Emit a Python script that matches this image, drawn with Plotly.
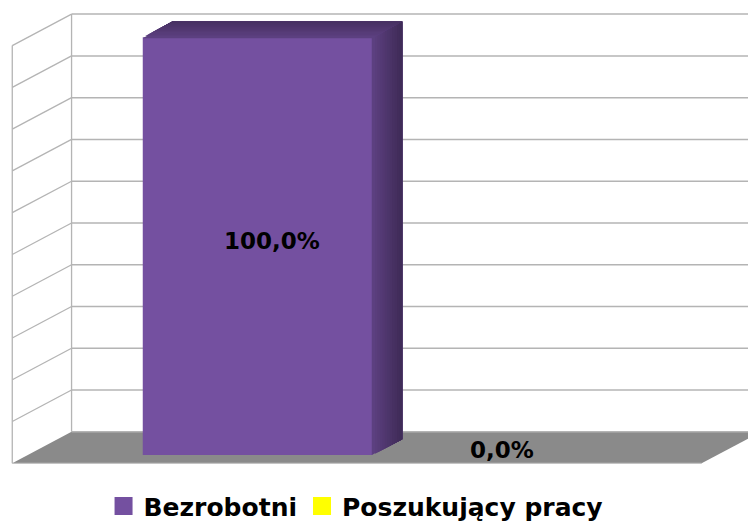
import plotly.graph_objects as go

# ---- data ----
series_names = ["Bezrobotni", "Poszukujący pracy"]
values = [100.0, 0.0]
series_colors = ["#7450A0", "#FFFF00"]
grid_ticks = [0, 10, 20, 30, 40, 50, 60, 70, 80, 90, 100]

# ---- 3D projection parameters (axis units) ----
DX = 0.0860        # x shift per unit of depth
DY = 7.54          # y shift per unit of depth
FD = 0.263         # depth of bar front face
BD = 0.5           # bar depth
BAR_W = 1 / 3      # bar width (category band = 1)
X_LEFT, X_RIGHT = -0.5, 0.5
EPS = 0.0012       # tiny overlap to hide anti-alias seams


def hex_to_rgb(h):
    h = h.lstrip("#")
    return tuple(int(h[i:i + 2], 16) for i in (0, 2, 4))


def shade(h, f):
    r, g, b = hex_to_rgb(h)
    return "rgb(%d,%d,%d)" % (r * f, g * f, b * f)


def mix(h, f1, f2, t):
    return shade(h, f1 + (f2 - f1) * t)


def poly(pts):
    return "M " + " L ".join("%f,%f" % p for p in pts) + " Z"


shapes = []
grid_col = "#B4B4B4"

# floor
shapes.append(dict(type="path", xref="x", yref="y", layer="below",
                   path=poly([(X_LEFT, 0), (X_RIGHT, 0), (X_RIGHT + DX, DY), (X_LEFT + DX, DY)]),
                   fillcolor="#8A8A8A", line=dict(width=0)))
shapes.append(dict(type="line", xref="x", yref="y", layer="below",
                   x0=X_LEFT, y0=0, x1=X_RIGHT, y1=0, line=dict(color="#C4C4C4", width=1.2)))

# back wall grid lines
for t in grid_ticks:
    shapes.append(dict(type="line", xref="x", yref="y", layer="below",
                       x0=X_LEFT + DX, y0=t + DY, x1=X_RIGHT + 2 * DX, y1=t + DY,
                       line=dict(color=grid_col, width=1.5)))
# left wall lines
for t in grid_ticks[1:]:
    shapes.append(dict(type="line", xref="x", yref="y", layer="below",
                       x0=X_LEFT, y0=t, x1=X_LEFT + DX, y1=t + DY,
                       line=dict(color=grid_col, width=1.3)))
shapes.append(dict(type="line", xref="x", yref="y", layer="below",
                   x0=X_LEFT, y0=0, x1=X_LEFT, y1=grid_ticks[-1],
                   line=dict(color=grid_col, width=1.3)))
shapes.append(dict(type="line", xref="x", yref="y", layer="below",
                   x0=X_LEFT + DX, y0=DY, x1=X_LEFT + DX, y1=grid_ticks[-1] + DY,
                   line=dict(color=grid_col, width=1.3)))

fig = go.Figure()
annotations = []
N = 12
for i, (name, v, c) in enumerate(zip(series_names, values, series_colors)):
    x0 = -BAR_W + i * BAR_W          # left edge at depth 0
    x1 = x0 + BAR_W
    fig.add_trace(go.Bar(x=[FD * DX], y=[v], base=FD * DY, width=BAR_W,
                         offset=x0, marker=dict(color=c, line=dict(width=0)),
                         showlegend=False, hoverinfo="skip"))
    if v > 0:
        dend = FD + BD
        # side face: overlapping gradient layers along depth (no seams)
        for k in range(N):
            d0 = FD + BD * k / N
            col = mix(c, 0.80, 0.55, k / (N - 1))
            sx = x1 + d0 * DX - (EPS if k == 0 else 0)
            shapes.append(dict(type="path", xref="x", yref="y", layer="above",
                               path=poly([(sx, d0 * DY),
                                          (x1 + dend * DX, dend * DY),
                                          (x1 + dend * DX, v + dend * DY),
                                          (sx, v + d0 * DY)]),
                               fillcolor=col, line=dict(width=0)))
        # top face
        for k in range(N):
            d0 = FD + BD * k / N
            col = mix(c, 0.80, 0.62, k / (N - 1))
            sy = v + d0 * DY - (0.25 if k == 0 else 0)
            shapes.append(dict(type="path", xref="x", yref="y", layer="above",
                               path=poly([(x0 + d0 * DX, sy), (x1 + d0 * DX, sy),
                                          (x1 + dend * DX, v + dend * DY), (x0 + dend * DX, v + dend * DY)]),
                               fillcolor=col, line=dict(width=0)))
    md = FD + BD / 2
    annotations.append(dict(x=(x0 + x1) / 2 + md * DX, y=v / 2 + md * DY, xref="x", yref="y",
                            text=("%.1f%%" % v).replace(".", ","), showarrow=False, yshift=-3,
                            font=dict(family="DejaVu Sans", size=23, color="black", weight="bold")))
    # legend entry
    fig.add_trace(go.Scatter(x=[None], y=[None], mode="markers", name=name,
                             marker=dict(symbol="square", size=16, color=c, line=dict(color=c, width=2))))

fig.update_layout(
    width=748, height=524,
    margin=dict(l=0, r=0, t=0, b=0, autoexpand=False),
    paper_bgcolor="white", plot_bgcolor="white",
    barmode="overlay",
    shapes=shapes, annotations=annotations,
    xaxis=dict(visible=False, range=[-0.5178, 0.5672], fixedrange=True),
    yaxis=dict(visible=False, range=[-14.53, 110.92], fixedrange=True),
    showlegend=True,
    legend=dict(orientation="h", x=0.476, xanchor="center", y=0.034, yanchor="middle",
                font=dict(family="DejaVu Sans", size=25, color="black", weight="bold"),
                bgcolor="rgba(0,0,0,0)", itemclick=False, itemdoubleclick=False),
)

fig.write_html("out.html", config={"displayModeBar": False},
               post_script="document.body.style.margin='0';document.body.style.overflow='hidden';")
